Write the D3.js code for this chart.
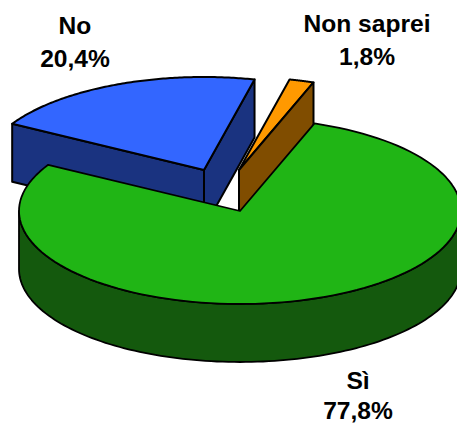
<!DOCTYPE html>
<html>
<head>
<meta charset="utf-8">
<script src="https://cdn.jsdelivr.net/npm/d3@7/dist/d3.min.js"></script>
<style>
html,body{margin:0;padding:0;background:#fff;overflow:hidden}
svg{display:block}
text{font-family:"Liberation Sans",Arial,sans-serif;font-weight:700;font-size:23px;fill:#000;text-anchor:middle}
</style>
</head>
<body>
<svg id="chart" width="457" height="423"></svg>
<script>
// Survey answers, clockwise from the start of the large slice
const categories = ["Sì", "No", "Non saprei"];
const shares = [77.8, 20.4, 1.8];
const shareLabels = ["77,8%", "20,4%", "1,8%"];

const topColors = ["#20B515", "#3366FF", "#FF9900"];
const sideColors = ["#14590D", "#1A3380", "#804D00"];

// Projection of the tilted disc
const cx = 240, cy = 211, rx = 221, ry = 93, depth = 58;
const firstAngle = 19.7 * Math.PI / 180;
// Pulled-out slices are shifted on the page
const shifts = [[0, 0], [-36, -41], [-1, -41]];
const labelAnchors = [[358, 389, 419], [75, 34, 67], [367, 32, 65]];

const svg = d3.select("#chart");
const slices = d3.pie().sort(null).startAngle(firstAngle).endAngle(firstAngle + 2 * Math.PI)(shares);

const sx = d3.scaleLinear().domain([-1, 1]).range([-rx, rx]);
const sy = d3.scaleLinear().domain([-1, 1]).range([-ry, ry]);
const project = (a, i, dy = 0) => [
  cx + shifts[i][0] + sx(Math.sin(a)),
  cy + shifts[i][1] + sy(-Math.cos(a)) + dy
];
const apex = (i, dy = 0) => [cx + shifts[i][0], cy + shifts[i][1] + dy];
const arcPoints = (a0, a1, i, dy = 0) =>
  d3.range(0, 121).map(k => project(a0 + (a1 - a0) * k / 120, i, dy));

const path = d3.line();
const face = (g, pts, fill, sw = 2) => g.append("path")
  .attr("d", path(pts) + "Z")
  .attr("fill", fill).attr("stroke", "#000")
  .attr("stroke-width", sw).attr("stroke-linejoin", "round");

const g = svg.append("g");

// Blue slice: two cut faces, then its top
const blue = slices[1];
face(g, [apex(1), project(blue.startAngle, 1), project(blue.startAngle, 1, depth), apex(1, depth)], sideColors[1]);
face(g, [apex(1), project(blue.endAngle, 1), project(blue.endAngle, 1, depth), apex(1, depth)], sideColors[1]);
face(g, [apex(1), ...arcPoints(blue.startAngle, blue.endAngle, 1)], topColors[1]);

// Orange sliver: top, then the cut face toward the viewer
const orange = slices[2];
face(g, [apex(2), ...arcPoints(orange.startAngle, orange.endAngle, 2)], topColors[2]);
face(g, [apex(2), project(orange.endAngle, 2), project(orange.endAngle, 2, depth), apex(2, depth)], sideColors[2]);

// Green slice: outer wall along the near half of the rim, then its top
const green = slices[0];
const nearStart = Math.PI / 2, nearEnd = 3 * Math.PI / 2;
const wallTop = arcPoints(nearStart, nearEnd, 0);
const wallBottom = arcPoints(nearStart, nearEnd, 0, depth).reverse();
face(g, [...wallTop, ...wallBottom], sideColors[0], 1.8);
face(g, [apex(0), ...arcPoints(green.startAngle, green.endAngle, 0)], topColors[0], 1.8);

// Two-line labels: category and share, set slightly wide
const labelStretch = 1.07;
categories.forEach((name, i) => {
  const [x, y1, y2] = labelAnchors[i];
  svg.append("text").attr("transform", `translate(${x},${y1}) scale(${labelStretch},1)`).text(name);
  svg.append("text").attr("transform", `translate(${x},${y2}) scale(${labelStretch},1)`).text(shareLabels[i]);
});
</script>
</body>
</html>
